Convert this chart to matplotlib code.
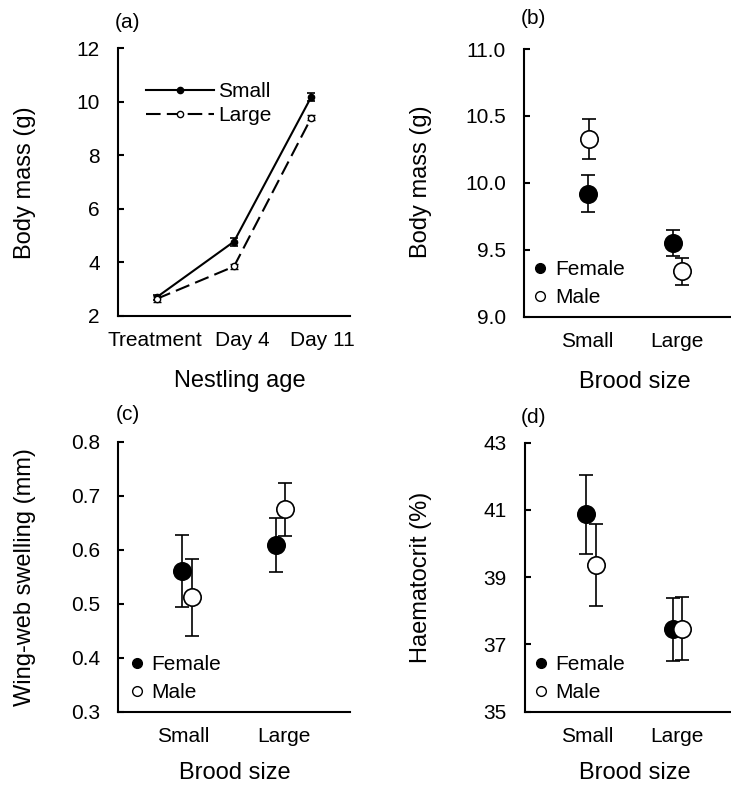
import matplotlib
matplotlib.use("Agg")
import matplotlib.pyplot as plt
from matplotlib.lines import Line2D
from matplotlib.transforms import ScaledTranslation

plt.rcParams["font.family"] = ["Liberation Sans", "DejaVu Sans"]

# (a) body mass over nestling age
ages = ["Treatment", "Day 4", "Day 11"]
small_mass = [2.70, 4.78, 10.19]
small_mass_se = [0.10, 0.15, 0.15]
large_mass = [2.64, 3.85, 9.41]
large_mass_se = [0.10, 0.11, 0.10]

# (b)-(d) by brood size and sex
broods = ["Small", "Large"]
female_mass = [9.92, 9.55]
female_mass_se = [0.14, 0.10]
male_mass = [10.33, 9.34]
male_mass_se = [0.15, 0.10]

female_swell = [0.560, 0.608]
female_swell_se = [0.067, 0.050]
male_swell = [0.512, 0.675]
male_swell_se = [0.071, 0.049]

female_hct = [40.87, 37.45]
female_hct_se = [1.18, 0.94]
male_hct = [39.35, 37.47]
male_hct_se = [1.22, 0.93]

# horizontal nudges of the points (female, male) per panel
nudge_b = ([0.015, -0.04], [0.025, 0.06])
nudge_c = ([-0.01, -0.085], [0.09, 0.005])
nudge_d = ([-0.02, -0.05], [0.09, 0.055])

W, H = 731, 786
TICK_FS = 15
LABEL_FS = 17
fig = plt.figure(figsize=(W / 100, H / 100), dpi=100)


def add_axes(left, right, top, bottom):
    return fig.add_axes([left / W, 1 - bottom / H, (right - left) / W, (bottom - top) / H])


def px_text(px, py, s, **kw):
    fig.text(px / W, 1 - py / H, s, **kw)


def style(ax):
    for s in ["top", "right"]:
        ax.spines[s].set_visible(False)
    for s in ["left", "bottom"]:
        ax.spines[s].set_linewidth(1.5)
    ax.tick_params(axis="y", direction="in", length=4, width=1.5, pad=13, labelsize=TICK_FS)
    ax.tick_params(axis="x", length=0, pad=11, labelsize=TICK_FS)


ax_a = add_axes(118, 350, 48.3, 316)
ax_b = add_axes(524, 731, 49, 316.7)
ax_c = add_axes(118, 350, 441.7, 711.7)
ax_d = add_axes(524.7, 731, 442.7, 711.7)

# panel a
x = list(range(len(ages)))
ax_a.errorbar(x, small_mass, yerr=small_mass_se, color="black", lw=1.5, marker="o",
              ms=4.5, mfc="black", mec="black", capsize=3.2, elinewidth=1.2, capthick=1.2)
ax_a.errorbar(x, large_mass, yerr=large_mass_se, color="black", lw=1.5, marker="o",
              ms=4.5, mfc="white", mec="black", mew=1.0, capsize=3.2, elinewidth=1.2,
              capthick=1.2, dashes=(7, 3))
ax_a.set_xlim(-0.5, 2.5)
ax_a.set_ylim(2, 12)
ax_a.set_yticks([2, 4, 6, 8, 10, 12])
ax_a.set_xticks(x)
ax_a.set_xticklabels(ages)
style(ax_a)
# category labels in the original sit a little right of the points
for lbl, dx in zip(ax_a.get_xticklabels(), [-2, 8, 11]):
    lbl.set_transform(lbl.get_transform() + ScaledTranslation(dx / 100, 0, fig.dpi_scale_trans))
h = [Line2D([], [], color="black", lw=1.5, marker="o", ms=4.5, mfc="black"),
     Line2D([], [], color="black", lw=1.5, marker="o", ms=4.5, mfc="white", dashes=(7, 3))]
ax_a.legend(h, ["Small", "Large"], loc="upper left", bbox_to_anchor=(0.12, 0.874),
            frameon=False, fontsize=TICK_FS, handlelength=3.27, handletextpad=0.2,
            labelspacing=0.25, borderpad=0, borderaxespad=0)


def sex_panel(ax, fv, fe, mv, me, nudge, ylim, yticks, fmt, leg_x):
    xs = [1, 2]
    xf = [a + b for a, b in zip(xs, nudge[0])]
    xm = [a + b for a, b in zip(xs, nudge[1])]
    ax.errorbar(xf, fv, yerr=fe, fmt="o", ms=12.5, mfc="black", mec="black", mew=1.2,
                ecolor="black", elinewidth=1.2, capsize=4.7, capthick=1.2, zorder=3)
    ax.errorbar(xm, mv, yerr=me, fmt="o", ms=12.5, mfc="white", mec="black", mew=1.2,
                ecolor="black", elinewidth=1.2, capsize=4.7, capthick=1.2, zorder=4)
    ax.set_ylim(*ylim)
    ax.set_yticks(yticks)
    ax.set_yticklabels([fmt.format(v) for v in yticks])
    ax.set_xticks(xs)
    ax.set_xticklabels(broods)
    style(ax)
    h = [Line2D([], [], ls="none", marker="o", ms=7, mfc="black", mec="black"),
         Line2D([], [], ls="none", marker="o", ms=7, mfc="white", mec="black", mew=1.0)]
    ax.legend(h, ["Female", "Male"], loc="lower left", bbox_to_anchor=(leg_x, 0.036),
              frameon=False, fontsize=TICK_FS, handlelength=0.6, handletextpad=0.4,
              labelspacing=0.44, borderpad=0, borderaxespad=0)


sex_panel(ax_b, female_mass, female_mass_se, male_mass, male_mass_se, nudge_b,
          (9.0, 11.0), [9.0, 9.5, 10.0, 10.5, 11.0], "{:.1f}", 0.048)
ax_b.set_xlim(0.3, 2.6)

sex_panel(ax_c, female_swell, female_swell_se, male_swell, male_swell_se, nudge_c,
          (0.3, 0.8), [0.3, 0.4, 0.5, 0.6, 0.7, 0.8], "{:.1f}", 0.054)
ax_c.set_xlim(0.36, 2.65)

sex_panel(ax_d, female_hct, female_hct_se, male_hct, male_hct_se, nudge_d,
          (35, 43), [35, 37, 39, 41, 43], "{:.0f}", 0.047)
ax_d.set_xlim(0.3, 2.6)

# axis titles
px_text(240, 387, "Nestling age", fontsize=LABEL_FS, ha="center", va="baseline")
px_text(635, 388, "Brood size", fontsize=LABEL_FS, ha="center", va="baseline")
px_text(235, 779, "Brood size", fontsize=LABEL_FS, ha="center", va="baseline")
px_text(635, 779, "Brood size", fontsize=LABEL_FS, ha="center", va="baseline")
px_text(25, 182.5, "Body mass (g)", fontsize=LABEL_FS, ha="center", va="center", rotation=90)
px_text(421, 182, "Body mass (g)", fontsize=LABEL_FS, ha="center", va="center", rotation=90)
px_text(25, 577, "Wing-web swelling (mm)", fontsize=LABEL_FS, ha="center", va="center",
        rotation=90)
px_text(421, 577, "Haematocrit (%)", fontsize=LABEL_FS, ha="center", va="center", rotation=90)

for lab, px, py in [("(a)", 128, 22), ("(b)", 533, 19), ("(c)", 128, 415), ("(d)", 533, 417)]:
    px_text(px, py, lab, fontsize=15, ha="center", va="center")

fig.savefig("out.png", dpi=100)
